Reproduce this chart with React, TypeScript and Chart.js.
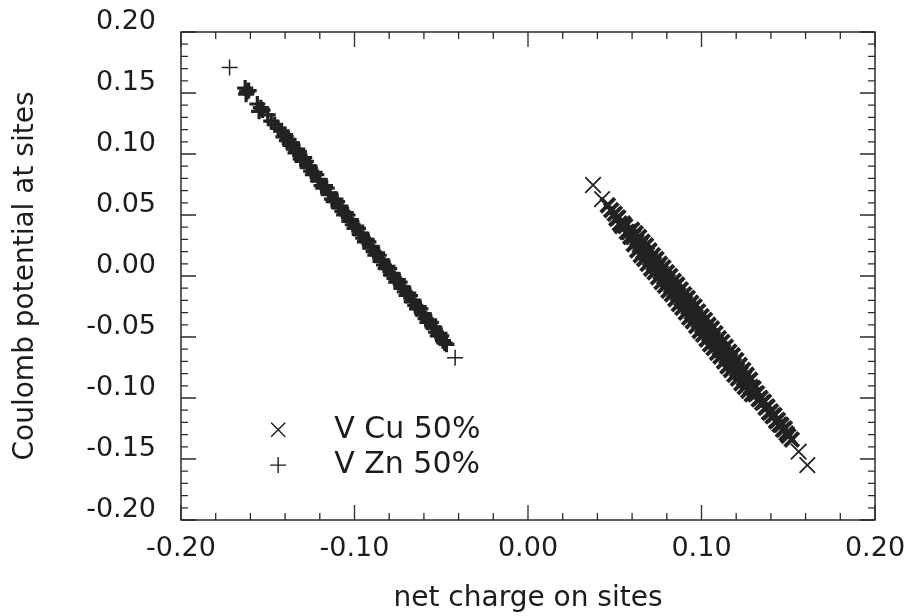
import React, { useEffect, useRef } from "react";
import { Chart, registerables } from "chart.js";

Chart.register(...registerables);

// Net charge vs Coulomb potential, V Cu 50% (x markers)
const vcuPoints: [number, number][] = [
  [0.0375, 0.0746], [0.0427, 0.063], [0.046, 0.058], [0.048, 0.054],
  [0.05, 0.051], [0.051, 0.047], [0.052, 0.048], [0.053, 0.043],
  [0.054, 0.041], [0.055, 0.043], [0.056, 0.041], [0.057, 0.036],
  [0.058, 0.036], [0.059, 0.032],
  [0.06, 0.038], [0.061, 0.026], [0.0605, 0.032],
  [0.062, 0.035], [0.063, 0.021], [0.0625, 0.028],
  [0.064, 0.032], [0.065, 0.017], [0.0645, 0.025],
  [0.066, 0.028], [0.067, 0.014], [0.0665, 0.02],
  [0.068, 0.025], [0.069, 0.01], [0.0685, 0.018],
  [0.07, 0.021], [0.071, 0.006], [0.0705, 0.014],
  [0.072, 0.017], [0.073, 0.003], [0.0725, 0.01],
  [0.074, 0.014], [0.075, -0.001], [0.0745, 0.007],
  [0.076, 0.01], [0.077, -0.005], [0.0765, 0.003],
  [0.078, 0.007], [0.079, -0.008], [0.0785, -0.001],
  [0.08, 0.003], [0.081, -0.012], [0.0805, -0.004],
  [0.082, 0.0], [0.083, -0.015], [0.0825, -0.008],
  [0.084, -0.004], [0.085, -0.019], [0.0845, -0.012],
  [0.086, -0.007], [0.087, -0.023], [0.0865, -0.015],
  [0.088, -0.011], [0.089, -0.026], [0.0885, -0.019],
  [0.09, -0.015], [0.091, -0.03], [0.0905, -0.022],
  [0.092, -0.018], [0.093, -0.034], [0.0925, -0.026],
  [0.094, -0.022], [0.095, -0.037], [0.0945, -0.03],
  [0.096, -0.025], [0.097, -0.041], [0.0965, -0.033],
  [0.098, -0.029], [0.099, -0.045], [0.0985, -0.037],
  [0.1, -0.033], [0.101, -0.048], [0.1005, -0.041],
  [0.102, -0.036], [0.103, -0.052], [0.1025, -0.044],
  [0.104, -0.04], [0.105, -0.056], [0.1045, -0.048],
  [0.106, -0.043], [0.107, -0.059], [0.1065, -0.051],
  [0.108, -0.047], [0.109, -0.063], [0.1085, -0.055],
  [0.11, -0.051], [0.111, -0.066], [0.1105, -0.059],
  [0.112, -0.054], [0.113, -0.07], [0.1125, -0.062],
  [0.114, -0.058], [0.115, -0.074], [0.1145, -0.066],
  [0.116, -0.062], [0.117, -0.077], [0.1165, -0.069],
  [0.118, -0.065], [0.119, -0.081], [0.1185, -0.073],
  [0.12, -0.069], [0.121, -0.084], [0.1205, -0.077],
  [0.122, -0.073], [0.123, -0.088], [0.1225, -0.08],
  [0.124, -0.077], [0.125, -0.091], [0.1245, -0.084],
  [0.126, -0.081], [0.127, -0.094], [0.1265, -0.087],
  [0.128, -0.085], [0.129, -0.097], [0.1285, -0.091],
  [0.13, -0.092], [0.131, -0.097], [0.132, -0.096], [0.133, -0.101],
  [0.134, -0.1], [0.135, -0.104], [0.136, -0.103], [0.137, -0.108],
  [0.138, -0.107], [0.139, -0.112], [0.14, -0.111], [0.141, -0.115],
  [0.142, -0.114], [0.143, -0.119], [0.144, -0.118], [0.145, -0.122],
  [0.146, -0.122], [0.147, -0.126], [0.148, -0.125], [0.149, -0.129],
  [0.15, -0.131], [0.152, -0.134], [0.156, -0.144], [0.161, -0.155],
];

// V Zn 50% (+ markers)
const vznPoints: [number, number][] = [
  [-0.172, 0.171],
  [-0.163, 0.154], [-0.162, 0.151], [-0.1625, 0.149], [-0.161, 0.152],
  [-0.156, 0.141], [-0.154, 0.138], [-0.153, 0.136], [-0.155, 0.135],
  [-0.15, 0.132], [-0.148, 0.127], [-0.146, 0.124], [-0.144, 0.121],
  [-0.142, 0.119], [-0.141, 0.114], [-0.14, 0.116], [-0.139, 0.111],
  [-0.138, 0.112], [-0.137, 0.107], [-0.136, 0.109], [-0.135, 0.104],
  [-0.134, 0.101], [-0.133, 0.104], [-0.132, 0.102], [-0.131, 0.096],
  [-0.13, 0.094], [-0.129, 0.097], [-0.128, 0.094], [-0.127, 0.089],
  [-0.126, 0.09], [-0.125, 0.086], [-0.124, 0.083], [-0.123, 0.085],
  [-0.122, 0.083], [-0.121, 0.078], [-0.12, 0.079], [-0.119, 0.074],
  [-0.118, 0.072], [-0.117, 0.074], [-0.116, 0.072], [-0.115, 0.067],
  [-0.114, 0.068], [-0.113, 0.063], [-0.112, 0.061], [-0.111, 0.063],
  [-0.11, 0.061], [-0.109, 0.056], [-0.108, 0.057], [-0.107, 0.053],
  [-0.106, 0.05], [-0.105, 0.052], [-0.104, 0.05], [-0.103, 0.045],
  [-0.102, 0.046], [-0.101, 0.042], [-0.1, 0.039], [-0.099, 0.041],
  [-0.098, 0.039], [-0.097, 0.034], [-0.096, 0.035], [-0.095, 0.031],
  [-0.094, 0.028], [-0.093, 0.03], [-0.092, 0.028], [-0.091, 0.023],
  [-0.09, 0.024], [-0.089, 0.02], [-0.088, 0.017], [-0.087, 0.019],
  [-0.086, 0.017], [-0.085, 0.012], [-0.084, 0.013], [-0.083, 0.009],
  [-0.082, 0.006], [-0.081, 0.008], [-0.08, 0.006], [-0.079, 0.001],
  [-0.078, 0.002], [-0.077, -0.002], [-0.076, -0.005], [-0.075, -0.003],
  [-0.074, -0.005], [-0.073, -0.01], [-0.072, -0.009], [-0.071, -0.013],
  [-0.07, -0.016], [-0.069, -0.014], [-0.068, -0.016], [-0.067, -0.021],
  [-0.066, -0.02], [-0.065, -0.024], [-0.064, -0.027], [-0.063, -0.025],
  [-0.062, -0.027], [-0.061, -0.031], [-0.06, -0.031], [-0.059, -0.035],
  [-0.058, -0.038], [-0.057, -0.036], [-0.056, -0.038], [-0.055, -0.042],
  [-0.054, -0.042], [-0.053, -0.046], [-0.052, -0.049], [-0.051, -0.047],
  [-0.05, -0.049], [-0.049, -0.053], [-0.048, -0.055], [-0.047, -0.056],
  [-0.042, -0.067],
];

const seriesLabels = ["V Cu 50%", "V Zn 50%"];
const xTitle = "net charge on sites";
const yTitle = "Coulomb potential at sites";
const axisMin = -0.2;
const axisMax = 0.2;

const INK = "#1c1c1c";
const MARK = "#222222";
const FONT = "'DejaVu Sans', 'Liberation Sans', sans-serif";

const fmt = (v: number) => (Math.abs(v) < 1e-9 ? "0.00" : v.toFixed(2));

const framePlugin = {
  id: "frameTicks",
  afterDraw(chart: any) {
    const { ctx, chartArea } = chart;
    const xs = chart.scales.x;
    const ys = chart.scales.y;
    const { left, right, top, bottom } = chartArea;
    ctx.save();
    ctx.strokeStyle = "#2a2a2a";
    ctx.lineWidth = 1.5;
    ctx.strokeRect(left, top, right - left, bottom - top);
    ctx.lineWidth = 1.3;
    ctx.beginPath();
    for (let i = 0; i <= 40; i++) {
      const v = axisMin + i * 0.01;
      const p = ys.getPixelForValue(v);
      const len = i % 5 === 0 ? 15 : 7;
      ctx.moveTo(left, p);
      ctx.lineTo(left + len, p);
      ctx.moveTo(right, p);
      ctx.lineTo(right - len, p);
    }
    for (let i = 0; i <= 20; i++) {
      const v = axisMin + i * 0.02;
      const p = xs.getPixelForValue(v);
      const len = i % 5 === 0 ? 15 : 7;
      ctx.moveTo(p, bottom);
      ctx.lineTo(p, bottom - len);
      ctx.moveTo(p, top);
      ctx.lineTo(p, top + len);
    }
    ctx.stroke();

    // legend
    const lx = xs.getPixelForValue(-0.144);
    const ly1 = ys.getPixelForValue(-0.126);
    const ly2 = ys.getPixelForValue(-0.155);
    ctx.strokeStyle = INK;
    ctx.lineWidth = 1.4;
    ctx.beginPath();
    const s = 7;
    ctx.moveTo(lx - s, ly1 - s);
    ctx.lineTo(lx + s, ly1 + s);
    ctx.moveTo(lx - s, ly1 + s);
    ctx.lineTo(lx + s, ly1 - s);
    ctx.moveTo(lx - 8, ly2);
    ctx.lineTo(lx + 8, ly2);
    ctx.moveTo(lx, ly2 - 8);
    ctx.lineTo(lx, ly2 + 8);
    ctx.stroke();
    ctx.fillStyle = INK;
    ctx.font = `30px ${FONT}`;
    ctx.textBaseline = "middle";
    ctx.textAlign = "left";
    ctx.fillText(seriesLabels[0], lx + 56, ly1);
    ctx.fillText(seriesLabels[1], lx + 56, ly2);
    ctx.restore();
  },
};

export default function App() {
  const ref = useRef<HTMLCanvasElement | null>(null);
  useEffect(() => {
    document.body.style.margin = "0";
    const canvas = ref.current;
    if (!canvas) return;
    const nCu = vcuPoints.length;
    const nZn = vznPoints.length;
    const chart = new Chart(canvas, {
      type: "scatter",
      data: {
        datasets: [
          {
            label: seriesLabels[0],
            data: vcuPoints.map(([x, y]) => ({ x, y })),
            pointStyle: "crossRot",
            pointRadius: (c: any) => (c.dataIndex < 2 || c.dataIndex >= nCu - 2 ? 11 : 10),
            pointBorderWidth: (c: any) => (c.dataIndex < 2 || c.dataIndex >= nCu - 2 ? 1.8 : 4),
            borderColor: MARK,
            backgroundColor: MARK,
          },
          {
            label: seriesLabels[1],
            data: vznPoints.map(([x, y]) => ({ x, y })),
            pointStyle: "cross",
            pointRadius: 8,
            pointBorderWidth: (c: any) => (c.dataIndex < 1 || c.dataIndex >= nZn - 1 ? 1.5 : 3.2),
            borderColor: MARK,
            backgroundColor: MARK,
          },
        ],
      },
      options: {
        animation: false,
        responsive: false,
        layout: { padding: { left: 0, top: 32, right: 36, bottom: 0 } },
        plugins: {
          legend: { display: false },
          tooltip: { enabled: false },
        },
        scales: {
          x: {
            type: "linear",
            min: axisMin,
            max: axisMax,
            grid: { display: false, drawTicks: false },
            border: { display: false },
            ticks: {
              stepSize: 0.1,
              padding: 13,
              color: INK,
              font: { family: FONT, size: 27 },
              callback: (v: any) => fmt(Number(v)),
              maxRotation: 0,
            },
            title: {
              display: true,
              text: xTitle,
              color: INK,
              font: { family: FONT, size: 28 },
              padding: { top: 0, bottom: 0 },
            },
            afterFit: (scale: any) => {
              scale.height = 96;
              scale.paddingLeft = 0;
              scale.paddingRight = 0;
            },
          },
          y: {
            type: "linear",
            min: axisMin,
            max: axisMax,
            grid: { display: false, drawTicks: false },
            border: { display: false },
            ticks: {
              stepSize: 0.05,
              padding: 25,
              labelOffset: -10,
              color: INK,
              font: { family: FONT, size: 27 },
              callback: (v: any) => fmt(Number(v)),
            },
            title: {
              display: true,
              text: yTitle,
              color: INK,
              font: { family: FONT, size: 28 },
              padding: { top: 9, bottom: 0 },
            },
            afterFit: (scale: any) => {
              scale.width = 181;
              scale.paddingTop = 0;
              scale.paddingBottom = 0;
            },
          },
        },
      },
      plugins: [framePlugin],
    });
    return () => chart.destroy();
  }, []);
  return (
    <div style={{ width: 911, height: 616, background: "#fff" }}>
      <canvas ref={ref} width={911} height={616} style={{ display: "block" }} />
    </div>
  );
}
